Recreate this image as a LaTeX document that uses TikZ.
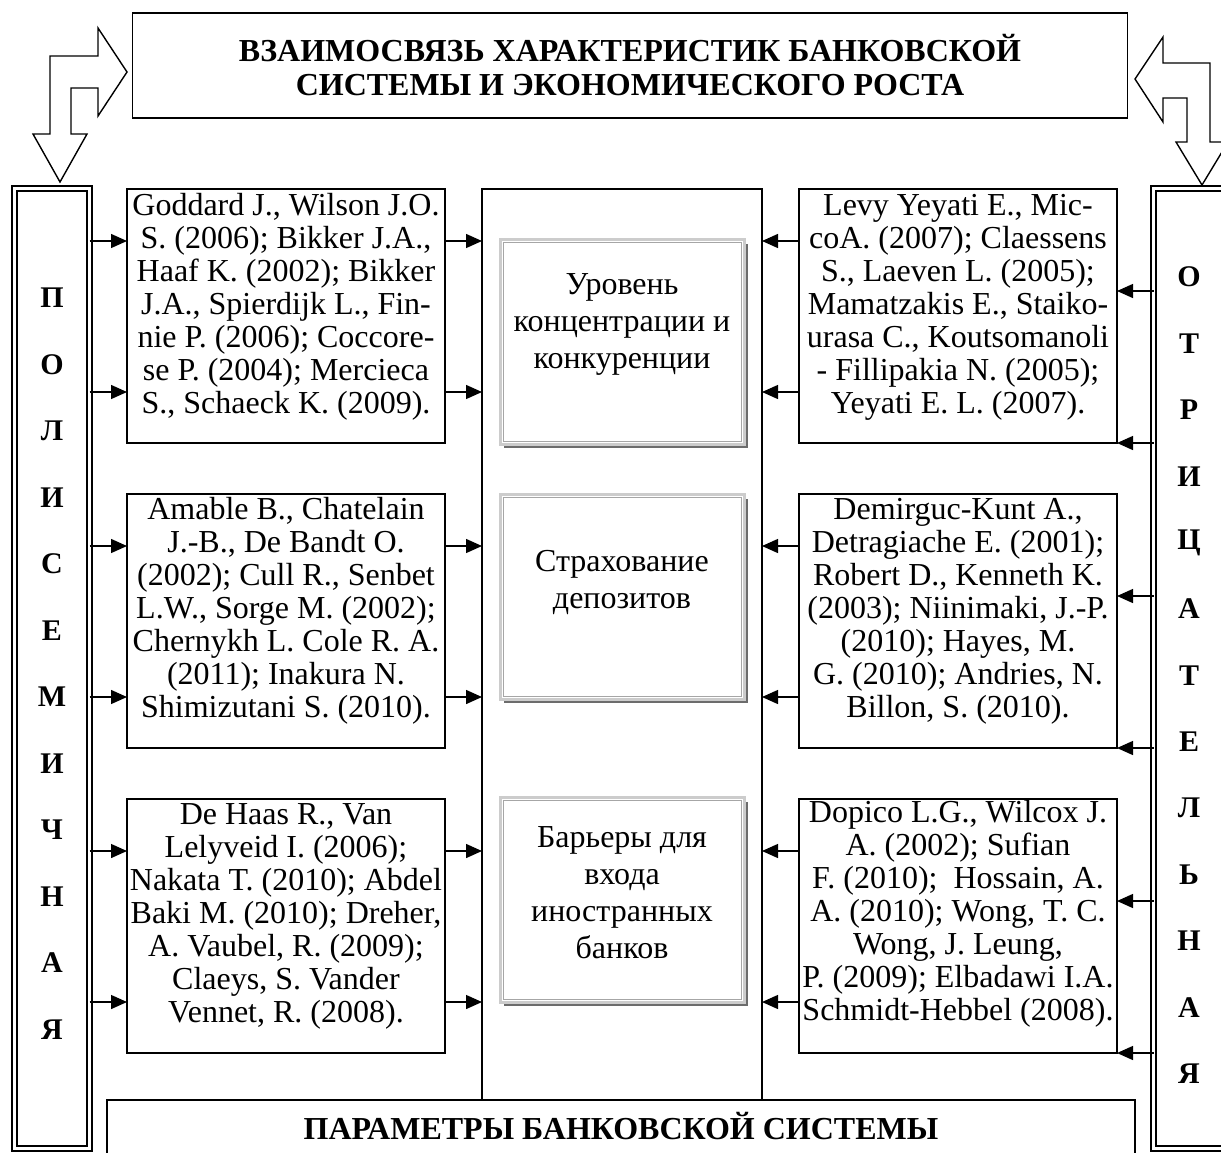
\documentclass[tikz,border=0pt]{standalone}
\usepackage{fontspec}
\setmainfont{Liberation Serif}
\usetikzlibrary{arrows.meta}
\begin{document}
\begin{tikzpicture}[x=1pt,y=-1pt,
  refbox/.style={draw, line width=1.3pt, minimum width=318pt, minimum height=254pt, inner sep=0pt, outer sep=0pt, anchor=north west},
  reftext/.style={align=center, font=\fontsize{32}{33}\selectfont, inner sep=0pt},
  arr/.style={line width=1.4pt, -{Triangle[length=16pt,width=14pt]}},
  bar/.style={draw, line width=1.8pt, double=white, double distance=3.2pt, minimum width=75pt, minimum height=960pt, inner sep=0pt, outer sep=0pt},
  barletter/.style={font=\fontsize{30}{30}\bfseries\selectfont, inner sep=0pt},
  cbox/.style={draw=gray!40, line width=3pt, fill=white, minimum width=244pt, minimum height=205pt, inner sep=0pt, outer sep=0pt},
  ctext/.style={align=center, font=\fontsize{32}{37}\selectfont, inner sep=0pt},
  bent/.style={draw, line width=1.4pt, fill=white, line join=miter}
]
\clip (0,0) rectangle (1221,1152);
\fill[white] (0,0) rectangle (1221,1152);

% title
\node[draw, line width=1.4pt, minimum width=995pt, minimum height=105pt, inner sep=0pt, outer sep=0pt,
      align=center, font=\fontsize{32}{34}\bfseries\selectfont] (title) at (630,65.5)
  {ВЗАИМОСВЯЗЬ ХАРАКТЕРИСТИК БАНКОВСКОЙ\\СИСТЕМЫ И ЭКОНОМИЧЕСКОГО РОСТА};

% bent arrows
\draw[bent] (71,134) -- (71,88) -- (98,88) -- (98,116) -- (127,72) -- (98,28) -- (98,56)
  -- (50,56) -- (50,134) -- (33,134) -- (60,182) -- (87,134) -- cycle;
\draw[bent] (1187,142) -- (1187,98) -- (1163,98) -- (1163,122) -- (1135,79) -- (1163,37) -- (1163,63)
  -- (1210,63) -- (1210,142) -- (1228,142) -- (1202,185) -- (1176,142) -- cycle;

% side bars
\node[bar] (lbar) at (52,668.5) {};
\node[bar] (rbar) at (1191,668.5) {};
\foreach \l [count=\k from 0] in {П,О,Л,И,С,Е,М,И,Ч,Н,А,Я}
  \node[barletter] (pl\k) at (52,{298+66.5*\k}) {\l};
\foreach \l [count=\k from 0] in {О,Т,Р,И,Ц,А,Т,Е,Л,Ь,Н,А,Я}
  \node[barletter] (ot\k) at (1189,{277+66.4*\k}) {\l};

% central column
\node[draw, line width=1.3pt, minimum width=280pt, minimum height=920pt, inner sep=0pt, outer sep=0pt, anchor=north west] (col) at (482,189) {};

% reference boxes
\node[refbox] (L1) at (127,189) {};
\node[refbox] (L2) at (127,494) {};
\node[refbox] (L3) at (127,799) {};
\node[refbox] (R1) at (799,189) {};
\node[refbox] (R2) at (799,494) {};
\node[refbox] (R3) at (799,799) {};

\node[reftext] (tL1) at (286,307) {Goddard J., Wilson J.O.\\S. (2006); Bikker J.A.,\\Haaf K. (2002); Bikker\\J.A., Spierdijk L., Fin-\\nie P. (2006); Coccore-\\se P. (2004); Mercieca\\S., Schaeck K. (2009).};
\node[reftext] (tL2) at (286,611) {Amable B., Chatelain\\J.-B., De Bandt O.\\(2002); Cull R., Senbet\\L.W., Sorge M. (2002);\\Chernykh L. Cole R. A.\\(2011); Inakura N.\\Shimizutani S. (2010).};
\node[reftext] (tL3) at (286,916) {De Haas R., Van\\Lelyveid I. (2006);\\Nakata T. (2010); Abdel\\Baki M. (2010); Dreher,\\A. Vaubel, R. (2009);\\Claeys, S. Vander\\Vennet, R. (2008).};
\node[reftext] (tR1) at (958,307) {Levy Yeyati E., Mic-\\coA. (2007); Claessens\\S., Laeven L. (2005);\\Mamatzakis E., Staiko-\\urasa C., Koutsomanoli\\- Fillipakia N. (2005);\\Yeyati E. L. (2007).};
\node[reftext] (tR2) at (958,611) {Demirguc-Kunt A.,\\Detragiache E. (2001);\\Robert D., Kenneth K.\\(2003); Niinimaki, J.-P.\\(2010); Hayes, M.\\G. (2010); Andries, N.\\Billon, S. (2010).};
\node[reftext] (tR3) at (958,914) {Dopico L.G., Wilcox J.\\A. (2002); Sufian\\F. (2010);\ \ Hossain, A.\\A. (2010); Wong, T. C.\\Wong, J. Leung,\\P. (2009); Elbadawi I.A.\\Schmidt-Hebbel (2008).};

% central framed boxes
\foreach \n/\cy in {cA/342, cB/597, cC/900} {
  \node[cbox] (\n) at (622,\cy) {};
  \draw[gray!70, line width=0.8pt] ([shift={(3pt,-3pt)}]\n.north west) rectangle ([shift={(-3pt,3pt)}]\n.south east);
  \draw[gray!85!black, line width=1.8pt] ([shift={(4pt,-2.6pt)}]\n.south west) -- ([shift={(2.6pt,-2.6pt)}]\n.south east) -- ([shift={(2.6pt,-4pt)}]\n.north east);
}
\node[ctext] (tA) at (622,324) {Уровень\\концентрации и\\конкуренции};
\node[ctext] (tB) at (622,582) {Страхование\\депозитов};
\node[ctext] (tC) at (622,893) {Барьеры для\\входа\\иностранных\\банков};

% arrows
\foreach \i in {1,2,3} {
  \coordinate (la\i) at ([yshift=-52pt]L\i.north west);
  \coordinate (lb\i) at ([yshift=-203pt]L\i.north west);
  \coordinate (lc\i) at ([yshift=-52pt]L\i.north east);
  \coordinate (ld\i) at ([yshift=-203pt]L\i.north east);
  \coordinate (ra\i) at ([yshift=-52pt]R\i.north west);
  \coordinate (rb\i) at ([yshift=-203pt]R\i.north west);
  \coordinate (rc\i) at ([yshift=-102pt]R\i.north east);
  \coordinate (rd\i) at ([yshift=-254pt]R\i.north east);
  \draw[arr] (la\i -| lbar.east) -- (la\i);
  \draw[arr] (lb\i -| lbar.east) -- (lb\i);
  \draw[arr] (lc\i) -- (lc\i -| col.west);
  \draw[arr] (ld\i) -- (ld\i -| col.west);
  \draw[arr] (ra\i) -- (ra\i -| col.east);
  \draw[arr] (rb\i) -- (rb\i -| col.east);
  \draw[arr] (rc\i -| rbar.west) -- (rc\i);
  \draw[arr] (rd\i -| rbar.west) -- (rd\i);
}

% parameters box
\node[draw, line width=1.4pt, fill=white, minimum width=1028pt, minimum height=90pt, inner sep=0pt, outer sep=0pt, anchor=north west] (pbox) at (107,1100) {};
\node[font=\fontsize{32}{34}\bfseries\selectfont, inner sep=0pt] (ptext) at (621,1126) {ПАРАМЕТРЫ БАНКОВСКОЙ СИСТЕМЫ};
\end{tikzpicture}
\end{document}
